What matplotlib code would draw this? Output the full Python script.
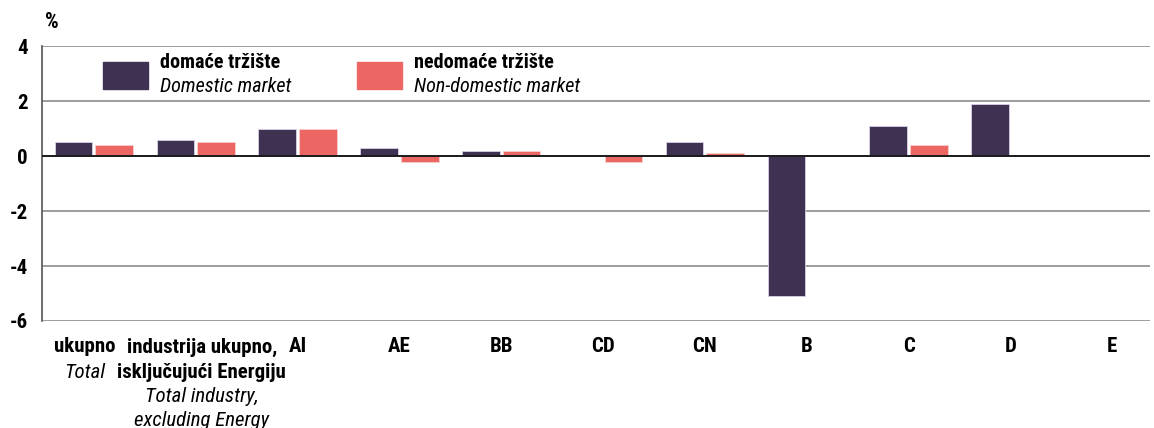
import matplotlib
matplotlib.use("Agg")
from matplotlib import pyplot as plt
from matplotlib import transforms, font_manager
from matplotlib.patches import Rectangle
import numpy as np

# data
categories = ["ukupno", "industrija ukupno,\nisključujući Energiju", "AI", "AE", "BB",
              "CD", "CN", "B", "C", "D", "E"]
subtitles = ["Total", "Total industry,\nexcluding Energy", "", "", "", "", "", "", "", "", ""]
domestic = [0.5, 0.6, 1.0, 0.3, 0.2, 0.0, 0.5, -5.1, 1.1, 1.9, 0.0]
non_domestic = [0.4, 0.5, 1.0, -0.2, 0.2, -0.2, 0.1, 0.0, 0.4, 0.0, 0.0]
y_ticks = [-6, -4, -2, 0, 2, 4]

# small horizontal nudges (px) for the two long labels so they don't collide
label_shift = {0: -9, 1: 6}

DARK = "#3f3152"
RED = "#ec6664"

installed = {f.name for f in font_manager.fontManager.ttflist}
narrow = [n for n in ["Liberation Sans Narrow", "DejaVu Sans Condensed", "Roboto Condensed"]
          if n in installed]
if narrow:
    FONT = [narrow[0], "DejaVu Sans"]
    FS = 14.5
else:
    FONT = ["Liberation Sans", "DejaVu Sans"]
    FS = 12.5
plt.rcParams["font.family"] = FONT

fig = plt.figure(figsize=(11.54, 4.28), dpi=100)
ax = fig.add_axes([0.0364, 0.25, 0.9601, 0.6425])

x = np.arange(len(categories))
width = 0.37
ax.bar(x - 0.2, domestic, width, color=DARK, edgecolor="#d8d0e6", linewidth=0.6, zorder=3)
ax.bar(x + 0.2, non_domestic, width, color=RED, edgecolor="#f7d0d0", linewidth=0.6, zorder=3)

ax.set_xlim(-0.51, 10.37)
ax.set_ylim(-6, 4)
ax.set_yticks(y_ticks)
ax.set_yticklabels([str(t) for t in y_ticks], fontsize=FS + 0.5, fontweight="bold")
ax.tick_params(axis="y", length=0, pad=10)
ax.set_xticks([])
for t in y_ticks:
    if t != 0:
        ax.axhline(t, color="#8c8c8c", linewidth=1.2, zorder=1)
ax.axhline(0, color="#1a1a1a", linewidth=1.4, zorder=4)
for side in ["top", "right", "bottom"]:
    ax.spines[side].set_visible(False)
ax.spines["left"].set_color("#555555")
ax.spines["left"].set_linewidth(1.2)

fig.text(52 / 1154, 1 - 22 / 428, "%", fontsize=FS + 1, fontweight="bold",
         ha="center", va="center")

# category labels below the axis
trans = transforms.blended_transform_factory(ax.transData, fig.transFigure)
for i, (cat, sub) in enumerate(zip(categories, subtitles)):
    off = transforms.ScaledTranslation(label_shift.get(i, 0) / 100, 0, fig.dpi_scale_trans)
    y = 1 - 347 / 428
    for ln in cat.split("\n"):
        ax.text(i, y, ln, transform=trans + off, ha="center", va="center",
                fontsize=FS + 0.5, fontweight="bold")
        y -= 25 / 428
    if sub:
        for ln in sub.split("\n"):
            ax.text(i, y, ln, transform=trans + off, ha="center", va="center",
                    fontsize=FS + 0.5, fontstyle="italic")
            y -= 23.5 / 428

# legend drawn manually
legend_items = [
    (103, DARK, "domaće tržište", "Domestic market"),
    (357, RED, "nedomaće tržište", "Non-domestic market"),
]
for px, color, bold, ital in legend_items:
    fig.patches.append(Rectangle((px / 1154, 1 - 89 / 428), 45 / 1154, 27 / 428,
                                 transform=fig.transFigure, color=color))
    fig.text((px + 57) / 1154, 1 - 63 / 428, bold, fontsize=FS, fontweight="bold",
             va="center", ha="left")
    fig.text((px + 57) / 1154, 1 - 86 / 428, ital, fontsize=FS, fontstyle="italic",
             va="center", ha="left")

fig.savefig("out.png", dpi=100)
